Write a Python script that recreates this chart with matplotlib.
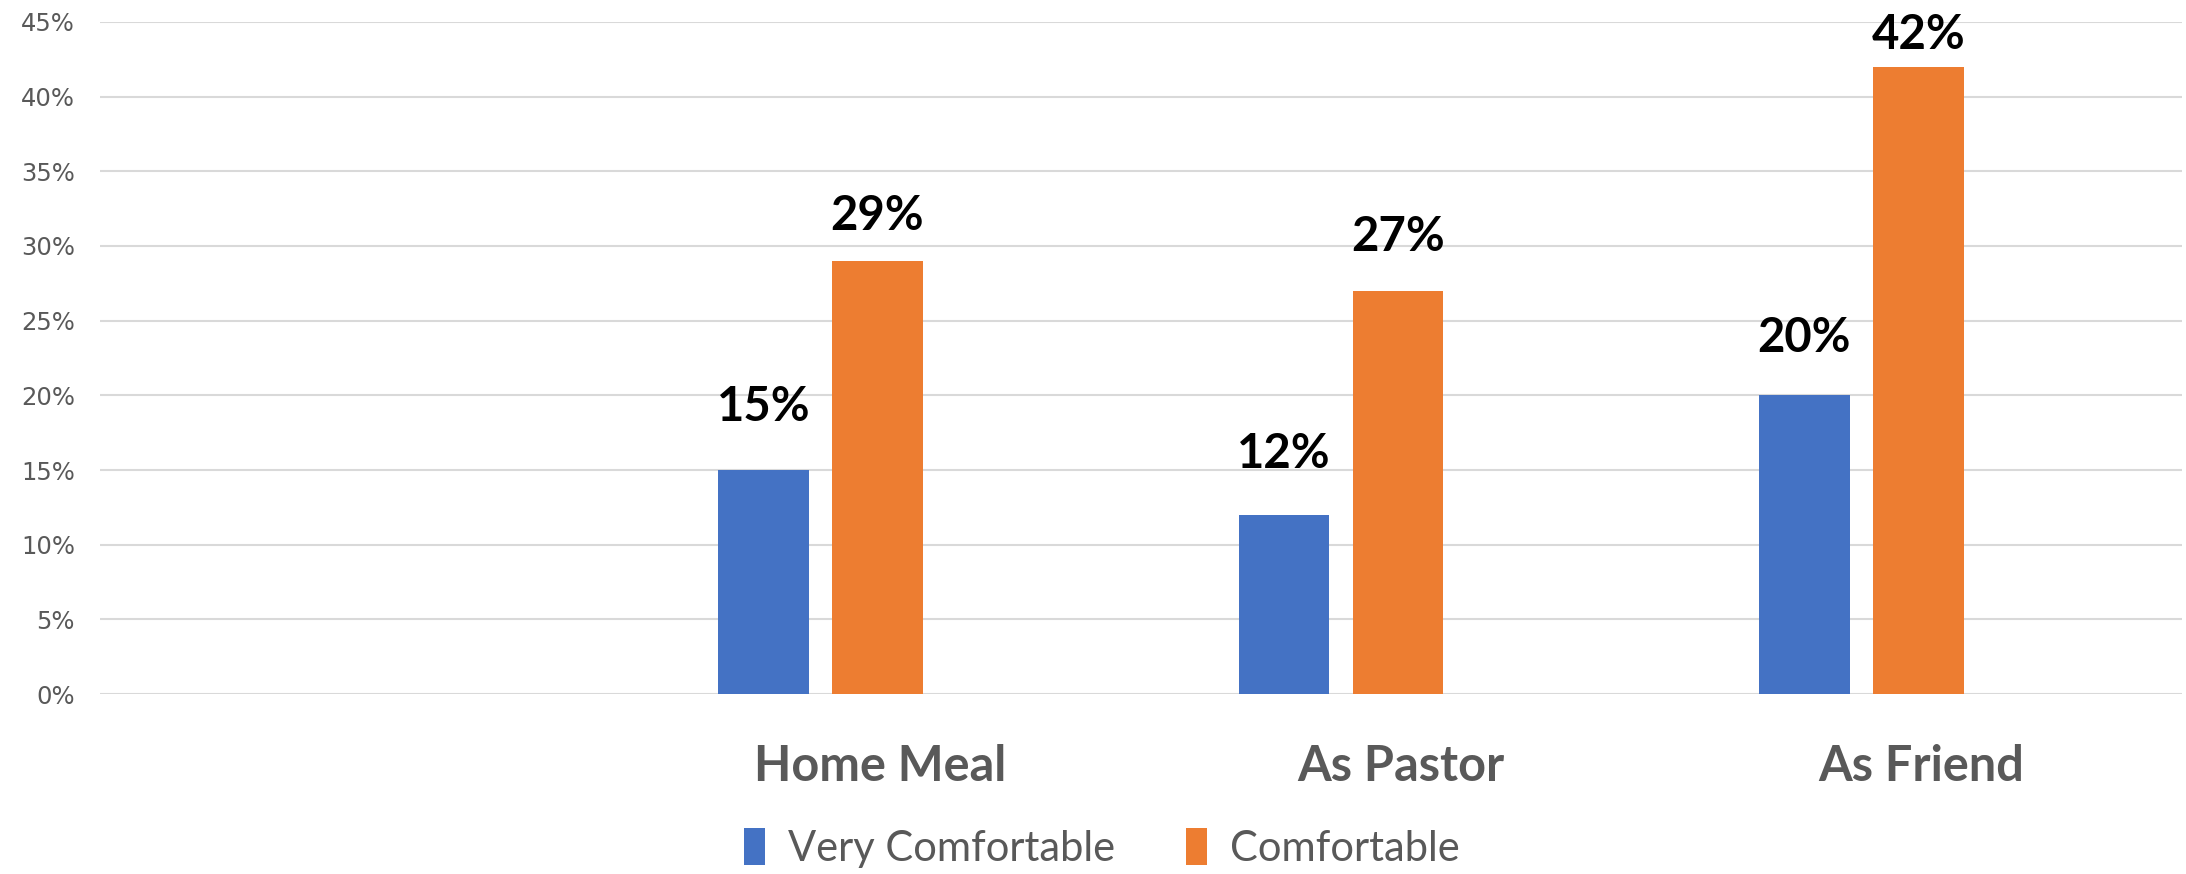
import numpy as np
import matplotlib
matplotlib.use("Agg")
import matplotlib.pyplot as plt
from matplotlib.patches import Patch

categories = ["", "Home Meal", "As Pastor", "As Friend"]
very_comfortable = [np.nan, 0.15, 0.12, 0.20]
comfortable = [np.nan, 0.29, 0.27, 0.42]
series_names = ["Very Comfortable", "Comfortable"]
yticks = [0.0, 0.05, 0.10, 0.15, 0.20, 0.25, 0.30, 0.35, 0.40, 0.45]

# gap (points) between the top of each bar and its value label baseline
very_label_gap = [0, 35, 34, 31]
comf_label_gap = [0, 22, 29, 13]

BLUE = "#4472C4"
ORANGE = "#ED7D31"
GRAY = "#595959"
GRID = "#D9D9D9"

fig = plt.figure(figsize=(21.86, 8.74), dpi=100)
ax = fig.add_axes([0.0457, 0.2059, 0.9523, 0.769])

x = np.arange(len(categories))
width = 0.174
pitch = 0.221
x_very = x - pitch - 0.004
x_comf = x - 0.006
ax.bar(x_very, very_comfortable, width, color=BLUE, zorder=3)
ax.bar(x_comf, comfortable, width, color=ORANGE, zorder=3)

label_kw = dict(ha="center", va="baseline", fontsize=34, fontweight="bold",
                family="Lato", color="black", zorder=4,
                textcoords="offset points", annotation_clip=False)
for xs, vals, gaps in ((x_very, very_comfortable, very_label_gap),
                       (x_comf, comfortable, comf_label_gap)):
    for xi, v, g in zip(xs, vals, gaps):
        if not np.isnan(v):
            ax.annotate(f"{v*100:.0f}%", (xi, v), xytext=(0, g), **label_kw)

ax.set_xlim(-0.5, len(categories) - 0.5)
ax.set_ylim(0, 0.45)
ax.set_yticks(yticks)
ax.set_yticklabels([f"{t*100:.0f}%" for t in yticks], fontsize=17.5,
                   family="DejaVu Sans", color=GRAY)
ax.set_xticks(x)
ax.set_xticklabels(categories, fontsize=35, fontweight="bold", family="Lato",
                   color=GRAY)
ax.tick_params(axis="both", length=0)
ax.tick_params(axis="y", pad=18)
ax.tick_params(axis="x", pad=36)
ax.grid(axis="y", color=GRID, linewidth=1.5, zorder=0)
for s in ax.spines.values():
    s.set_visible(False)

handles = [Patch(facecolor=BLUE), Patch(facecolor=ORANGE)]
leg = fig.legend(handles, series_names, loc="center", bbox_to_anchor=(0.504, 0.03),
                 ncol=2, frameon=False, handlelength=0.5, handleheight=1.0,
                 handletextpad=0.55, columnspacing=1.7,
                 prop={"family": "Lato", "size": 30})
for t in leg.get_texts():
    t.set_color(GRAY)

fig.savefig("out.png", dpi=100, facecolor="white")
